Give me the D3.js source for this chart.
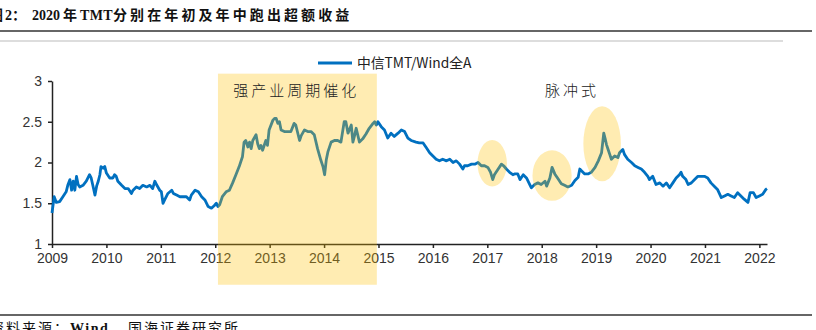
<!DOCTYPE html>
<html><head><meta charset="utf-8">
<script src="https://cdn.jsdelivr.net/npm/d3@7/dist/d3.min.js"></script>
<style>
body{margin:0;background:#fff;}
svg{display:block;}
</style></head>
<body><svg id="c" width="816" height="330"></svg>
<script>
// title / source pieces: [text, x, letterSpacing, bold]
const titleParts = [["图",-11,0],["2：",5,0],["2020",32,0],["年",63,0],["TMT",80,0.3],["分别在年初及年中跑出超额收益",113,3.1]];
const sourceParts = [["资料来源：",-10,2,false],["Wind",70,1.5,true],["，",110,0,false],["国海证券研究所",128,2,false]];
const seriesName = "中信TMT/Wind全A";
const yearTicks = [2009,2010,2011,2012,2013,2014,2015,2016,2017,2018,2019,2020,2021,2022];
const yTicks = [1,1.5,2,2.5,3];
const dates = [
2009.00,2009.04,2009.08,2009.14,2009.20,2009.26,2009.29,2009.33,2009.36,2009.39,2009.42,2009.45,2009.48,2009.51,2009.57,2009.63,2009.69,2009.72,2009.75,2009.79,2009.82,2009.85,2009.88,2009.90,2009.94,2009.97,
2010.00,2010.06,2010.12,2010.15,2010.18,2010.21,2010.28,2010.34,2010.40,2010.46,2010.49,2010.55,2010.61,2010.67,2010.74,2010.80,2010.85,2010.89,2010.92,2010.98,
2011.01,2011.04,2011.07,2011.13,2011.20,2011.23,2011.29,2011.35,2011.41,2011.47,2011.53,2011.56,2011.63,2011.69,2011.75,2011.81,2011.87,2011.93,2011.98,
2012.02,2012.05,2012.08,2012.13,2012.20,2012.26,2012.32,2012.38,2012.44,2012.50,2012.53,2012.56,2012.60,2012.63,2012.66,2012.69,2012.75,2012.78,2012.81,2012.84,2012.87,2012.93,2012.96,2012.99,
2013.06,2013.09,2013.12,2013.15,2013.18,2013.21,2013.27,2013.33,2013.39,2013.45,2013.48,2013.55,2013.58,2013.64,2013.70,2013.76,2013.82,2013.88,2013.94,2013.98,
2014.01,2014.04,2014.07,2014.13,2014.19,2014.25,2014.31,2014.37,2014.40,2014.44,2014.50,2014.53,2014.56,2014.59,2014.65,2014.71,2014.77,2014.83,2014.90,2014.93,2014.96,2014.99,
2015.05,2015.11,2015.17,2015.23,2015.29,2015.36,2015.42,2015.48,2015.54,2015.60,2015.69,2015.75,2015.82,2015.88,2015.94,
2016.00,2016.06,2016.12,2016.18,2016.25,2016.31,2016.37,2016.43,2016.49,2016.55,2016.58,2016.64,2016.71,2016.77,2016.83,2016.89,2016.95,
2017.01,2017.06,2017.10,2017.13,2017.20,2017.26,2017.30,2017.35,2017.41,2017.47,2017.50,2017.56,2017.60,2017.66,2017.72,2017.78,2017.81,2017.87,2017.93,2017.99,
2018.06,2018.09,2018.15,2018.19,2018.24,2018.30,2018.36,2018.42,2018.48,2018.55,2018.61,2018.67,2018.70,2018.73,2018.79,2018.85,2018.91,2018.98,
2019.04,2019.10,2019.14,2019.17,2019.19,2019.22,2019.25,2019.28,2019.34,2019.40,2019.43,2019.46,2019.49,2019.52,2019.58,2019.65,2019.71,2019.77,2019.83,2019.89,2019.95,2019.98,
2020.04,2020.10,2020.17,2020.23,2020.29,2020.35,2020.41,2020.47,2020.53,2020.56,2020.59,2020.65,2020.69,2020.75,2020.81,2020.87,2020.93,2020.99,
2021.05,2021.11,2021.17,2021.23,2021.30,2021.36,2021.42,2021.48,2021.54,2021.60,2021.66,2021.72,2021.79,2021.83,2021.89,2021.94,
2022.00,2022.06,2022.12,2022.14
];
const values = [
1.38,1.58,1.51,1.52,1.58,1.64,1.72,1.79,1.66,1.77,1.66,1.83,1.73,1.70,1.72,1.77,1.85,1.81,1.72,1.60,1.71,1.77,1.85,1.95,1.93,1.95,
1.87,1.81,1.81,1.85,1.83,1.77,1.72,1.68,1.68,1.62,1.66,1.70,1.68,1.72,1.70,1.72,1.68,1.77,1.73,1.66,
1.64,1.50,1.54,1.62,1.66,1.62,1.60,1.58,1.58,1.58,1.54,1.60,1.66,1.64,1.58,1.54,1.46,1.44,1.47,
1.50,1.46,1.48,1.58,1.64,1.66,1.75,1.85,1.95,2.07,2.25,2.27,2.19,2.25,2.17,2.27,2.34,2.23,2.17,2.21,2.15,2.27,2.21,2.40,
2.52,2.54,2.54,2.48,2.50,2.40,2.38,2.38,2.38,2.48,2.46,2.27,2.33,2.40,2.38,2.38,2.34,2.17,2.03,1.95,
1.85,2.03,2.13,2.25,2.27,2.27,2.25,2.50,2.50,2.36,2.46,2.25,2.33,2.42,2.25,2.29,2.35,2.42,2.48,2.50,2.46,2.50,
2.44,2.40,2.30,2.36,2.32,2.36,2.40,2.38,2.30,2.27,2.25,2.24,2.24,2.18,2.12,
2.08,2.04,2.02,2.04,2.02,2.04,2.00,2.02,1.98,1.92,1.96,1.96,1.98,1.98,2.00,1.96,1.96,
1.94,1.88,1.79,1.85,1.92,1.98,1.96,1.92,1.88,1.85,1.86,1.86,1.79,1.85,1.81,1.73,1.69,1.73,1.75,1.73,
1.77,1.71,1.81,1.94,1.86,1.80,1.74,1.72,1.70,1.72,1.78,1.82,1.92,1.90,1.86,1.86,1.88,1.94,
2.02,2.12,2.36,2.28,2.22,2.16,2.10,2.04,2.08,2.06,2.12,2.14,2.16,2.10,2.04,2.00,1.96,1.94,1.92,1.88,1.83,1.79,
1.83,1.73,1.75,1.71,1.75,1.69,1.75,1.81,1.85,1.88,1.83,1.79,1.73,1.75,1.79,1.83,1.83,1.83,
1.81,1.75,1.71,1.67,1.57,1.59,1.61,1.59,1.57,1.63,1.59,1.55,1.51,1.63,1.63,1.57,
1.59,1.61,1.67,1.68
];
// highlight zones: [start, end] in years, [low, high] in value units
const boxX = [2012.05, 2014.97];
const boxY = [0.5, 3.09];
const ellipseCx = [2017.09, 2018.19, 2019.11];
const ellipseCy = [1.99, 1.84, 2.23];
const ellipseRx = [0.27, 0.36, 0.345];
const ellipseRy = [0.285, 0.31, 0.46];
const annoText = ["强产业周期催化", "脉冲式"];
const annoX = [2012.33, 2018.06];
const annoY = [2.82, 2.82];

const svg = d3.select("#c");
const x = d3.scaleLinear().domain([2009, dates[dates.length-1]]).range([52, 767]);
const y = d3.scaleLinear().domain([1, 3]).range([244, 81]);
const data = dates.map((d,i)=>({d, v: values[i]}));

// header
const tt = svg.append("text").attr("y", 20)
  .attr("font-family", "'Liberation Serif','Noto Sans CJK SC',serif")
  .attr("font-weight", "bold").attr("font-size", 14).attr("fill", "#111");
titleParts.forEach(p=>tt.append("tspan").attr("x",p[1]).attr("letter-spacing",p[2]).text(p[0]));
svg.append("line").attr("x1",0).attr("x2",812).attr("y1",31).attr("y2",31).attr("stroke","#333").attr("stroke-width",1.5);
svg.append("line").attr("x1",0).attr("x2",783).attr("y1",41).attr("y2",41).attr("stroke","#bbb").attr("stroke-width",1);
svg.append("line").attr("x1",0).attr("x2",812).attr("y1",315).attr("y2",315).attr("stroke","#333").attr("stroke-width",1.5);
const st = svg.append("text").attr("y", 333)
  .attr("font-family", "'Liberation Serif','Noto Sans CJK SC',serif")
  .attr("font-size", 14).attr("fill", "#111");
sourceParts.forEach(p=>st.append("tspan").attr("x",p[1]).attr("letter-spacing",p[2]).attr("font-weight",p[3]?"bold":"normal").text(p[0]));

// axes
const xAxis = svg.append("g").attr("transform", `translate(0,${y(1)})`)
  .call(d3.axisBottom(x).tickValues(yearTicks).tickFormat(d3.format("d")).tickSize(4).tickSizeOuter(0));
const yAxis = svg.append("g").attr("transform", `translate(${x(2009)},0)`)
  .call(d3.axisLeft(y).tickValues(yTicks).tickFormat(d=>String(d)).tickSize(4).tickSizeOuter(0));
[xAxis, yAxis].forEach(g=>{
  g.selectAll("path,line").attr("stroke","#222").attr("stroke-width",1.5);
  g.selectAll("text").attr("font-family","'Liberation Sans',Arial,sans-serif").attr("font-size",14).attr("fill","#333");
});
xAxis.selectAll("text").attr("dy","0.9em").attr("y",6);
yAxis.selectAll("text").attr("x",-10);

// series
svg.append("path").datum(data)
  .attr("fill","none").attr("stroke","#0070C0").attr("stroke-width",2.8).attr("stroke-linejoin","round")
  .attr("d", d3.line().x(d=>x(d.d)).y(d=>y(d.v)));

// highlights
svg.append("rect").attr("x", x(boxX[0])).attr("width", x(boxX[1])-x(boxX[0]))
  .attr("y", y(boxY[1])).attr("height", y(boxY[0])-y(boxY[1]))
  .attr("fill","#FFC000").attr("fill-opacity",0.3);
svg.selectAll("ellipse").data(ellipseCx).join("ellipse")
  .attr("cx",(d)=>x(d)).attr("cy",(d,i)=>y(ellipseCy[i]))
  .attr("rx",(d,i)=>x(d+ellipseRx[i])-x(d)).attr("ry",(d,i)=>y(0)-y(ellipseRy[i]))
  .attr("fill","#FFC000").attr("fill-opacity",0.3);

// annotations
svg.selectAll("text.anno").data(annoText).join("text").attr("class","anno")
  .attr("x",(d,i)=>x(annoX[i])).attr("y",(d,i)=>y(annoY[i]))
  .attr("font-family","'Noto Sans CJK SC',sans-serif").attr("font-weight",300)
  .attr("font-size",15).attr("letter-spacing",3).attr("fill","#222").text(d=>d);

// legend
svg.append("line").attr("x1",318).attr("x2",352).attr("y1",63).attr("y2",63).attr("stroke","#0070C0").attr("stroke-width",2.8);
svg.append("text").attr("x",357).attr("y",68).attr("font-family","'Noto Sans CJK SC',sans-serif")
  .attr("font-size",13.8).attr("fill","#222").text(seriesName);
</script></body></html>
